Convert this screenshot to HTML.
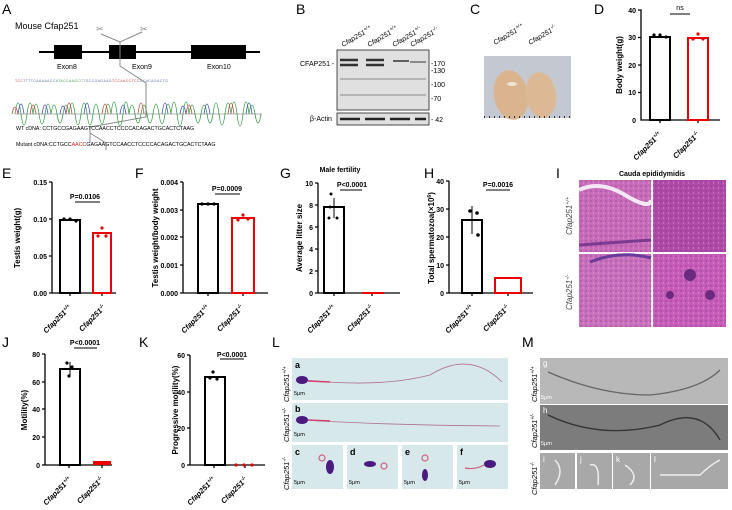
<!DOCTYPE html>
<html><head><meta charset="utf-8"><style>
body{margin:0;background:#fff}
svg{display:block;font-family:"Liberation Sans",Arial,sans-serif}
.L{font-size:14px}
.t{font-size:7px;font-weight:bold}
.ax{stroke:#000;stroke-width:1.3;fill:none}
.yl{font-size:8px;font-weight:bold}
.xl{font-size:7.5px;font-weight:bold;font-style:italic}
.bk{fill:none;stroke:#000;stroke-width:2}
.rd{fill:none;stroke:#e00;stroke-width:2}
</style></head><body>
<svg width="732" height="510" viewBox="0 0 732 510">
<defs>
<pattern id="dots" width="5" height="5" patternUnits="userSpaceOnUse"><circle cx="1" cy="1" r="0.8" fill="#6a2a80" opacity="0.5"/><circle cx="3.5" cy="3" r="0.6" fill="#f0c0ea" opacity="0.6"/></pattern>
</defs>
<!-- A -->
<text x="2" y="14" class="L">A</text>
<text x="15" y="29" font-size="9">Mouse Cfap251</text>
<line x1="39" y1="52" x2="260" y2="52" stroke="#000" stroke-width="2"/>
<rect x="54" y="45" width="28" height="14"/><rect x="109" y="45" width="27" height="14"/><rect x="191" y="45" width="55" height="14"/>
<text x="57" y="69" font-size="7">Exon8</text><text x="132" y="69" font-size="7">Exon9</text><text x="207" y="69" font-size="7">Exon10</text>
<polyline points="101,34 120,42 142,32" fill="none" stroke="#888"/>
<polyline points="120,42 120,66 146,83 146,117 90,127 90,143" fill="none" stroke="#888"/>
<polyline points="90,133 106,143 106,150" fill="none" stroke="#888"/>
<text x="96" y="32" font-size="9" fill="#888">✂</text><text x="140" y="32" font-size="9" fill="#888">✂</text>
<text x="15" y="82" font-size="3.4" fill="#5a6aa0" letter-spacing="0.45"><tspan fill="#c04040">TCC</tspan>TTTTCAAAAACC<tspan fill="#3a9a4a">ATACCAAGCC</tspan>TGCCGAGAAG<tspan fill="#c04040">TCCAACCTCC</tspan>CCACAGACTG</text>
<path d="M15 114 Q18 92 21 114 T27 114 T33 114 Q36 94 39 114 T45 114 T51 114 Q54 96 57 114 T63 114 T69 114 Q72 92 75 114 T81 114 T87 114 T93 114 Q96 94 99 114 T105 114 T111 114 Q114 90 117 114 T123 114 T129 114 Q132 96 135 114 T141 114 T147 114 T153 114 Q156 94 159 114 T165 114 T171 114 Q174 90 177 114 T183 114 T189 114 Q192 96 195 114 T201 114 T207 114 T213 114 Q216 92 219 114 T225 114 T231 114 Q234 90 237 114 T243 114 T249 114 Q252 96 255 114 T261 114" fill="none" stroke="#3aa04a" stroke-width="0.8"/>
<path d="M18 114 Q21 94 24 114 M42 114 Q45 96 48 114 M84 114 Q87 92 90 114 M120 114 Q123 96 126 114 M162 114 Q165 92 168 114 M204 114 Q207 94 210 114 M246 114 Q249 92 252 114 M60 114 Q63 98 66 114 M180 114 Q183 98 186 114" fill="none" stroke="#3c4fc0" stroke-width="0.8"/>
<path d="M30 114 Q33 96 36 114 M66 114 Q69 92 72 114 M102 114 Q105 94 108 114 M138 114 Q141 92 144 114 M186 114 Q189 96 192 114 M228 114 Q231 92 234 114 M12 114 Q15 100 18 114" fill="none" stroke="#d04040" stroke-width="0.8"/>
<line x1="15" y1="114" x2="262" y2="114" stroke="#444" stroke-width="0.4"/>
<text x="16" y="130" font-size="5.3">WT cDNA:     CCTGCCGAGAAGTCCAACCTCCCCACAGACTGCACTCTAAG</text>
<text x="16" y="146" font-size="5.3">Mutant cDNA:CCTGCC<tspan fill="#e02020">AACC</tspan>GAGAAGTCCAACCTCCCCACAGACTGCACTCTAAG</text>
<!-- B -->
<text x="296" y="14" class="L">B</text>
<g font-size="7" font-style="italic">
<text transform="translate(343,47) rotate(-30)">Cfap251<tspan font-size="5" dy="-3">+/+</tspan></text>
<text transform="translate(369,47) rotate(-30)">Cfap251<tspan font-size="5" dy="-3">+/+</tspan></text>
<text transform="translate(394,47) rotate(-30)">Cfap251<tspan font-size="5" dy="-3">+/-</tspan></text>
<text transform="translate(412,47) rotate(-30)">Cfap251<tspan font-size="5" dy="-3">-/-</tspan></text>
</g>
<rect x="337" y="50" width="92" height="60" fill="#e0e0e0" stroke="#222" stroke-width="0.8"/>
<g stroke="#333" stroke-width="2.5">
<line x1="340" y1="60" x2="358" y2="60"/><line x1="366" y1="60" x2="384" y2="60"/><line x1="393" y1="61" x2="409" y2="61" stroke-width="1.5"/><line x1="410" y1="62" x2="426" y2="62" stroke-width="1"/>
<line x1="340" y1="65" x2="358" y2="65"/><line x1="366" y1="65" x2="384" y2="65"/>
</g>
<g stroke="#888" stroke-width="1"><line x1="340" y1="79" x2="426" y2="79"/><line x1="340" y1="95" x2="426" y2="95"/></g>
<rect x="337" y="113" width="92" height="12" fill="#e0e0e0" stroke="#222" stroke-width="0.8"/>
<line x1="340" y1="119" x2="426" y2="119" stroke="#222" stroke-width="2.5" stroke-dasharray="20 5"/>
<g font-size="7"><text x="300" y="66">CFAP251 -</text><text x="310" y="121">β-Actin</text>
<text x="431" y="66">-170</text><text x="431" y="73">-130</text><text x="431" y="87">-100</text><text x="431" y="101">-70</text><text x="431" y="122">- 42</text></g>
<!-- C -->
<text x="470" y="14" class="L">C</text>
<g font-size="7" font-style="italic"><text transform="translate(495,45) rotate(-30)">Cfap251<tspan font-size="5" dy="-3">+/+</tspan></text><text transform="translate(530,45) rotate(-30)">Cfap251<tspan font-size="5" dy="-3">-/-</tspan></text></g>
<rect x="484" y="56" width="87" height="62" fill="#c4c8d0"/>
<ellipse cx="511" cy="95" rx="17" ry="25" fill="#d9b48e" transform="rotate(-10 511 95)"/>
<ellipse cx="541" cy="95" rx="15" ry="23" fill="#dcb994" transform="rotate(-8 541 95)"/>
<ellipse cx="512" cy="84" rx="5" ry="2" fill="#f2e2d0"/>
<line x1="484" y1="117" x2="571" y2="117" stroke="#333" stroke-width="2" stroke-dasharray="1 4"/>
<!-- D -->
<text x="594" y="14" class="L">D</text>
<path class="ax" d="M638 10H641V120H720M638 37.5H641M638 65H641M638 92.5H641M660 120v3M698 120v3"/>
<g class="t" text-anchor="end"><text x="636" y="13">40</text><text x="636" y="40">30</text><text x="636" y="68">20</text><text x="636" y="95">10</text><text x="636" y="123">0</text></g>
<rect x="650" y="37" width="20" height="83" class="bk"/>
<rect x="688" y="38" width="20" height="82" class="rd"/>
<g><circle cx="654" cy="35" r="1.6"/><circle cx="660" cy="35" r="1.6"/><circle cx="666" cy="37" r="1.6"/></g>
<g fill="#e00"><circle cx="698" cy="34" r="1.6"/><circle cx="693" cy="39" r="1.6"/><circle cx="703" cy="39" r="1.6"/></g>
<line x1="670" y1="14" x2="690" y2="14" stroke="#000"/><text x="680" y="10" font-size="7" text-anchor="middle">ns</text>
<text transform="translate(622,65) rotate(-90)" class="yl" text-anchor="middle">Body weight(g)</text>
<!-- E -->
<text x="2" y="178" class="L">E</text>
<path class="ax" d="M52 182V293H116M49 182H52M49 219H52M49 256H52M49 293H52M70 293v3M102 293v3"/>
<g class="t" text-anchor="end"><text x="47" y="185">0.15</text><text x="47" y="222">0.10</text><text x="47" y="259">0.05</text><text x="47" y="296">0.00</text></g>
<rect x="60" y="220" width="20" height="73" class="bk"/>
<rect x="93" y="233" width="18" height="60" class="rd"/>
<g><circle cx="64" cy="219" r="1.6"/><circle cx="70" cy="219" r="1.6"/><circle cx="76" cy="221" r="1.6"/></g>
<g fill="#e00"><circle cx="102" cy="228" r="1.6"/><circle cx="98" cy="236" r="1.6"/><circle cx="106" cy="236" r="1.6"/></g>
<line x1="75" y1="202" x2="100" y2="202" stroke="#000"/><text x="85" y="199" class="t" text-anchor="middle">P=0.0106</text>
<text transform="translate(20,238) rotate(-90)" class="yl" text-anchor="middle">Testis weight(g)</text>
<!-- F -->
<text x="135" y="178" class="L">F</text>
<path class="ax" d="M183 182V293H268M180 182H183M180 210H183M180 237H183M180 265H183M180 293H183M208 293v3M243 293v3"/>
<g class="t" text-anchor="end"><text x="178" y="185">0.004</text><text x="178" y="213">0.003</text><text x="178" y="240">0.002</text><text x="178" y="268">0.001</text><text x="178" y="296">0.000</text></g>
<rect x="198" y="204" width="20" height="89" class="bk"/>
<rect x="232" y="218" width="22" height="75" class="rd"/>
<g><circle cx="202" cy="204" r="1.6"/><circle cx="208" cy="204" r="1.6"/><circle cx="214" cy="204" r="1.6"/></g>
<g fill="#e00"><circle cx="243" cy="215" r="1.6"/><circle cx="238" cy="220" r="1.6"/><circle cx="248" cy="219" r="1.6"/></g>
<line x1="215" y1="194" x2="240" y2="194" stroke="#000"/><text x="227" y="191" class="t" text-anchor="middle">P=0.0009</text>
<text transform="translate(158,238) rotate(-90)" class="yl" text-anchor="middle">Testis weight/body weight</text>
<!-- G -->
<text x="280" y="178" class="L">G</text>
<text x="340" y="172" class="t" text-anchor="middle" font-size="7.5">Male fertility</text>
<path class="ax" d="M318 183V293H400M315 183H318M315 205H318M315 227H318M315 249H318M315 271H318M315 293H318M334 293v3M372 293v3"/>
<g class="t" text-anchor="end"><text x="313" y="186">10</text><text x="313" y="208">8</text><text x="313" y="230">6</text><text x="313" y="252">4</text><text x="313" y="274">2</text><text x="313" y="296">0</text></g>
<rect x="324" y="207" width="20" height="86" class="bk"/>
<line x1="334" y1="198" x2="334" y2="218" stroke="#000"/><circle cx="331" cy="194" r="1.5"/><circle cx="329" cy="218" r="1.5"/><circle cx="337" cy="218" r="1.5"/><circle cx="330" cy="207" r="1.5"/>
<line x1="362" y1="293" x2="384" y2="293" stroke="#e00" stroke-width="2"/>
<line x1="340" y1="190" x2="362" y2="190" stroke="#000"/><text x="352" y="187" class="t" text-anchor="middle">P&lt;0.0001</text>
<text transform="translate(302,238) rotate(-90)" class="yl" text-anchor="middle">Average litter size</text>
<!-- H -->
<text x="424" y="178" class="L">H</text>
<path class="ax" d="M449 181V293H533M446 181H449M446 209H449M446 237H449M446 265H449M446 293H449M472 293v3M508 293v3"/>
<g class="t" text-anchor="end"><text x="444" y="184">40</text><text x="444" y="212">30</text><text x="444" y="240">20</text><text x="444" y="268">10</text><text x="444" y="296">0</text></g>
<rect x="462" y="220" width="20" height="73" class="bk"/>
<line x1="472" y1="206" x2="472" y2="234" stroke="#000"/><circle cx="470" cy="211" r="1.8"/><circle cx="477" cy="213" r="1.8"/><circle cx="478" cy="235" r="1.8"/>
<rect x="495" y="278" width="26" height="15" class="rd"/>
<line x1="486" y1="190" x2="510" y2="190" stroke="#000"/><text x="498" y="187" class="t" text-anchor="middle">P=0.0016</text>
<text transform="translate(434,238) rotate(-90)" class="yl" text-anchor="middle">Total spermatozoa(×10<tspan font-size="5" dy="-3">6</tspan><tspan dy="3">)</tspan></text>
<!-- I -->
<text x="556" y="178" class="L">I</text>
<text x="652" y="176" class="t" text-anchor="middle" font-size="7.5">Cauda epididymidis</text>
<rect x="579" y="180" width="72" height="72" fill="#c86bb8"/><rect x="653" y="180" width="73" height="72" fill="#b04aa8"/>
<rect x="579" y="254" width="72" height="73" fill="#c870bc"/><rect x="653" y="254" width="73" height="73" fill="#c65cb8"/>
<rect x="579" y="180" width="147" height="147" fill="url(#dots)"/>
<path d="M579 190 Q600 180 625 195 T651 200" stroke="#f4e8f4" stroke-width="4" fill="none"/>
<path d="M579 245 L651 240" stroke="#7a3a90" stroke-width="3" fill="none"/>
<path d="M590 262 Q620 250 651 258" stroke="#6a3a9a" stroke-width="3" fill="none"/>
<g fill="#6a2a80"><circle cx="690" cy="275" r="6"/><circle cx="710" cy="295" r="5"/><circle cx="670" cy="295" r="4"/></g>
<g font-size="8" font-style="italic" fill="#444"><text transform="translate(572,235) rotate(-90)">Cfap251<tspan font-size="5.5" dy="-3">+/+</tspan></text><text transform="translate(572,310) rotate(-90)">Cfap251<tspan font-size="5.5" dy="-3">-/-</tspan></text></g>
<!-- J -->
<text x="2" y="347" class="L">J</text>
<path class="ax" d="M45 354V465H112M42 354H45M42 382H45M42 409H45M42 437H45M42 465H45M69 465v3M102 465v3"/>
<g class="t" text-anchor="end"><text x="40" y="357">80</text><text x="40" y="385">60</text><text x="40" y="412">40</text><text x="40" y="440">20</text><text x="40" y="468">0</text></g>
<rect x="60" y="369" width="20" height="96" class="bk"/>
<line x1="70" y1="362" x2="70" y2="376" stroke="#000"/><circle cx="67" cy="363" r="1.6"/><circle cx="72" cy="367" r="1.6"/><circle cx="69" cy="376" r="1.6"/>
<rect x="93" y="461" width="18" height="4" fill="#e00"/>
<line x1="74" y1="348" x2="97" y2="348" stroke="#000"/><text x="85" y="345" class="t" text-anchor="middle">P&lt;0.0001</text>
<text transform="translate(27,410) rotate(-90)" class="yl" text-anchor="middle">Motility(%)</text>
<!-- K -->
<text x="139" y="347" class="L">K</text>
<path class="ax" d="M190 355V465H265M187 355H190M187 392H190M187 428H190M187 465H190M214 465v3M245 465v3"/>
<g class="t" text-anchor="end"><text x="185" y="358">60</text><text x="185" y="395">40</text><text x="185" y="431">20</text><text x="185" y="468">0</text></g>
<rect x="205" y="377" width="20" height="88" class="bk"/>
<circle cx="213" cy="372" r="1.6"/><circle cx="210" cy="378" r="1.6"/><circle cx="217" cy="379" r="1.6"/>
<g fill="#e00"><circle cx="236" cy="465" r="1.6"/><circle cx="244" cy="465" r="1.6"/><circle cx="252" cy="465" r="1.6"/></g>
<line x1="220" y1="359" x2="244" y2="359" stroke="#000"/><text x="232" y="357" class="t" text-anchor="middle">P&lt;0.0001</text>
<text transform="translate(178,410) rotate(-90)" class="yl" text-anchor="middle">Progressive motility(%)</text>
<!-- x labels -->
<g class="xl">
<text transform="translate(72,308) rotate(-45)" text-anchor="end">Cfap251<tspan font-size="5" dy="-3">+/+</tspan></text>
<text transform="translate(106,308) rotate(-45)" text-anchor="end">Cfap251<tspan font-size="5" dy="-3">-/-</tspan></text>
<text transform="translate(210,308) rotate(-45)" text-anchor="end">Cfap251<tspan font-size="5" dy="-3">+/+</tspan></text>
<text transform="translate(244,308) rotate(-45)" text-anchor="end">Cfap251<tspan font-size="5" dy="-3">-/-</tspan></text>
<text transform="translate(336,308) rotate(-45)" text-anchor="end">Cfap251<tspan font-size="5" dy="-3">+/+</tspan></text>
<text transform="translate(374,308) rotate(-45)" text-anchor="end">Cfap251<tspan font-size="5" dy="-3">-/-</tspan></text>
<text transform="translate(474,308) rotate(-45)" text-anchor="end">Cfap251<tspan font-size="5" dy="-3">+/+</tspan></text>
<text transform="translate(510,308) rotate(-45)" text-anchor="end">Cfap251<tspan font-size="5" dy="-3">-/-</tspan></text>
<text transform="translate(662,135) rotate(-45)" text-anchor="end">Cfap251<tspan font-size="5" dy="-3">+/+</tspan></text>
<text transform="translate(700,135) rotate(-45)" text-anchor="end">Cfap251<tspan font-size="5" dy="-3">-/-</tspan></text>
<text transform="translate(72,480) rotate(-45)" text-anchor="end">Cfap251<tspan font-size="5" dy="-3">+/+</tspan></text>
<text transform="translate(104,480) rotate(-45)" text-anchor="end">Cfap251<tspan font-size="5" dy="-3">-/-</tspan></text>
<text transform="translate(216,480) rotate(-45)" text-anchor="end">Cfap251<tspan font-size="5" dy="-3">+/+</tspan></text>
<text transform="translate(248,480) rotate(-45)" text-anchor="end">Cfap251<tspan font-size="5" dy="-3">-/-</tspan></text>
</g>
<!-- L -->
<text x="272" y="347" class="L">L</text>
<g fill="#d6e8ea"><rect x="292" y="358" width="216" height="42"/><rect x="292" y="403" width="216" height="39"/>
<rect x="292" y="445" width="51" height="44"/><rect x="347" y="445" width="51" height="44"/><rect x="402" y="445" width="51" height="44"/><rect x="457" y="445" width="51" height="44"/></g>
<path d="M305 380 Q380 388 430 375 Q470 350 502 382" stroke="#b07090" fill="none" stroke-width="0.8"/>
<path d="M305 420 Q380 425 500 426" stroke="#b07090" fill="none" stroke-width="0.8"/>
<g stroke="#d04070" stroke-width="1.5"><line x1="308" y1="381" x2="330" y2="382"/><line x1="308" y1="420" x2="330" y2="421"/></g>
<g fill="#4a1a80"><ellipse cx="302" cy="380" rx="6" ry="4"/><ellipse cx="302" cy="420" rx="6" ry="4"/><ellipse cx="330" cy="467" rx="4" ry="7"/><ellipse cx="370" cy="464" rx="6" ry="3"/><ellipse cx="425" cy="475" rx="3" ry="6"/><ellipse cx="490" cy="464" rx="6" ry="4"/></g>
<g fill="none" stroke="#d06080" stroke-width="1.2"><circle cx="322" cy="458" r="3"/><circle cx="384" cy="466" r="3"/><circle cx="425" cy="458" r="3"/><path d="M465 468 Q475 470 484 465"/></g>
<g font-size="9" font-weight="bold"><text x="295" y="368">a</text><text x="295" y="412">b</text><text x="295" y="455">c</text><text x="350" y="455">d</text><text x="405" y="455">e</text><text x="460" y="455">f</text></g>
<g font-size="5.5"><text x="294" y="395">5μm</text><text x="294" y="436">5μm</text><text x="294" y="484">5μm</text><text x="349" y="484">5μm</text><text x="404" y="484">5μm</text><text x="459" y="484">5μm</text></g>
<g font-size="7.5" font-style="italic"><text transform="translate(289,402) rotate(-90)">Cfap251<tspan font-size="5" dy="-3">+/+</tspan></text><text transform="translate(289,442) rotate(-90)">Cfap251<tspan font-size="5" dy="-3">+/-</tspan></text><text transform="translate(289,490) rotate(-90)">Cfap251<tspan font-size="5" dy="-3">-/-</tspan></text></g>
<!-- M -->
<text x="522" y="347" class="L">M</text>
<rect x="540" y="358" width="188" height="46" fill="#b8b8b8"/><rect x="540" y="405" width="188" height="45" fill="#7c7c7c"/>
<g fill="#a8a8a8"><rect x="540" y="453" width="35" height="36"/><rect x="577" y="453" width="35" height="36"/><rect x="613" y="453" width="37" height="36"/><rect x="651" y="453" width="77" height="36"/></g>
<path d="M548 372 Q600 395 650 395 Q700 390 720 370" stroke="#666" fill="none" stroke-width="1.3"/>
<path d="M548 415 Q600 440 660 425 Q700 405 720 440" stroke="#333" fill="none" stroke-width="1.3"/>
<g stroke="#eee" fill="none" stroke-width="1.5"><path d="M555 460 Q565 470 555 485"/><path d="M590 465 Q600 462 598 485"/><path d="M625 465 Q640 475 630 485"/><path d="M660 475 L700 475 Q710 465 720 460"/></g>
<g fill="#fff" font-size="8"><text x="543" y="366">g</text><text x="543" y="413">h</text><text x="543" y="462">i</text><text x="580" y="462">j</text><text x="616" y="462">k</text><text x="654" y="462">l</text></g>
<g font-size="5.5" fill="#fff"><text x="541" y="399">5μm</text><text x="541" y="445">5μm</text></g>
<g font-size="7.5" font-style="italic"><text transform="translate(537,402) rotate(-90)">Cfap251<tspan font-size="5" dy="-3">+/+</tspan></text><text transform="translate(537,448) rotate(-90)">Cfap251<tspan font-size="5" dy="-3">+/-</tspan></text><text transform="translate(537,495) rotate(-90)">Cfap251<tspan font-size="5" dy="-3">-/-</tspan></text></g>
</svg>
</body></html>
